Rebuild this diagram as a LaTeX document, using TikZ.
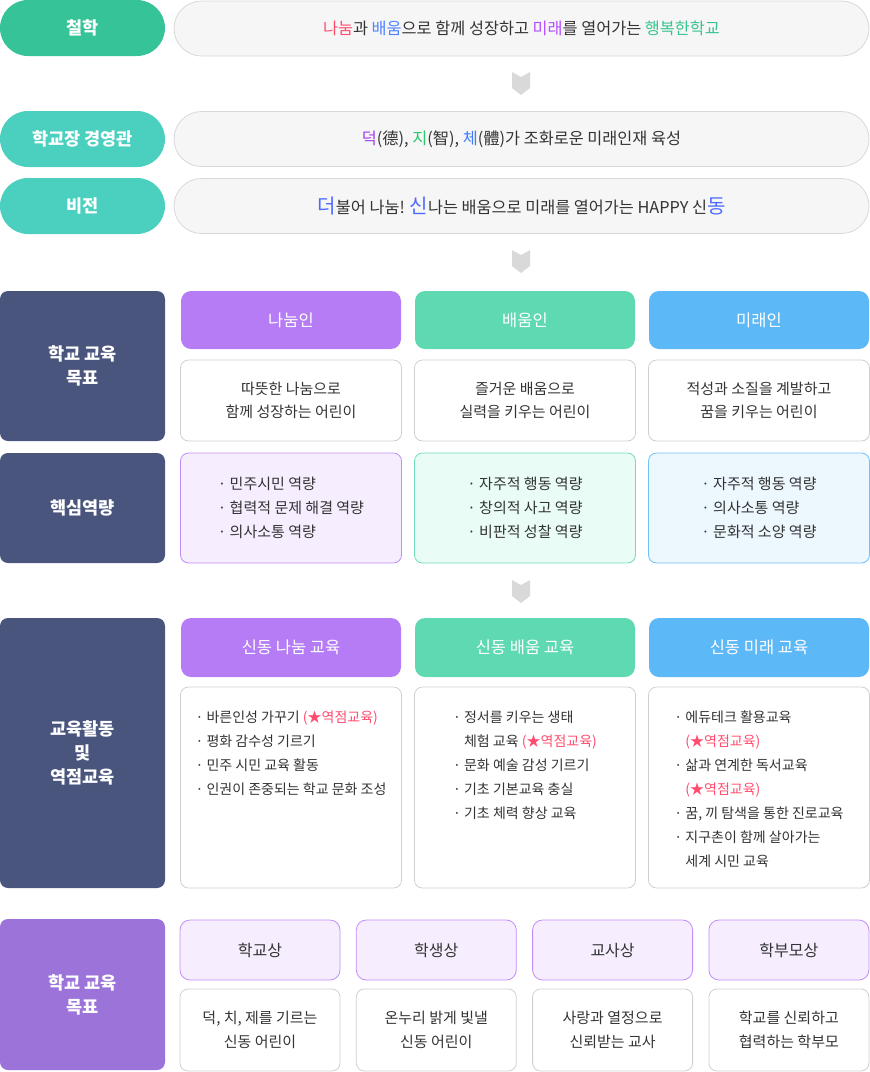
\documentclass[tikz,border=0pt]{standalone}
\usepackage{fontspec}
\setmainfont{Noto Sans CJK KR}
\usetikzlibrary{positioning}

\definecolor{cdark}{HTML}{333333}
\definecolor{cphil}{HTML}{37C398}
\definecolor{cmgmt}{HTML}{4BCFBF}
\definecolor{cnavy}{HTML}{4A557D}
\definecolor{cviolet}{HTML}{9B73D9}
\definecolor{cpurple}{HTML}{B57CF5}
\definecolor{cgreen}{HTML}{5ED9B1}
\definecolor{cblue}{HTML}{5DB8F8}
\definecolor{cpillbg}{HTML}{F6F6F6}
\definecolor{cpillline}{HTML}{D8D8D8}
\definecolor{cboxline}{HTML}{CFCFCF}
\definecolor{cchev}{HTML}{D9D9D9}
\definecolor{cpurplebg}{HTML}{F6EDFE}
\definecolor{cpurpleline}{HTML}{C28DF7}
\definecolor{cgreenbg}{HTML}{E9FCF6}
\definecolor{cgreenline}{HTML}{6FDDB9}
\definecolor{cbluebg}{HTML}{EDF7FE}
\definecolor{cblueline}{HTML}{6FC0F8}
\definecolor{tred}{HTML}{FF4C6F}
\definecolor{tblue}{HTML}{4F83FF}
\definecolor{tviolet}{HTML}{B64CFF}
\definecolor{tgreen}{HTML}{38C48F}
\definecolor{tdeok}{HTML}{A43BF2}
\definecolor{tji}{HTML}{2DC56E}
\definecolor{tche}{HTML}{3E7BF5}
\definecolor{tvision}{HTML}{4F6BFF}

\newcommand{\ptfont}[1]{\fontsize{#1}{24}\selectfont}
\newcommand{\focusedu}{\color{tred}(★역점교육)}

\begin{document}
\begin{tikzpicture}[x=1pt, y=-1pt, node distance=14pt,
	every node/.style={inner sep=0pt, outer sep=0pt, text=cdark},
	pilltag/.style={fill=#1, rounded corners=28pt, minimum width=165pt, minimum height=56pt, text=white, font=\ptfont{17.5}\bfseries},
	pillbody/.style={fill=cpillbg, draw=cpillline, line width=0.8pt, rounded corners=27.5pt, minimum width=695pt, minimum height=55pt, font=\ptfont{16.3}},
	sidebox/.style={fill=#1, rounded corners=8pt, minimum width=165pt, text=white, align=center, font=\fontsize{17.5}{24}\selectfont\bfseries},
	headbox/.style={fill=#1, rounded corners=10pt, minimum width=220pt, text=white, font=\ptfont{16.5}},
	descbox/.style={draw=cboxline, line width=0.8pt, rounded corners=8pt, minimum width=221pt, align=center, font=\fontsize{15}{23}\selectfont},
	corebox/.style={draw=#1line, fill=#1bg, line width=0.8pt, rounded corners=8pt, minimum width=221pt, minimum height=110pt, align=left, font=\fontsize{15}{24}\selectfont},
	listtext/.style={anchor=north, align=left, font=\fontsize{14}{24}\selectfont},
	idealhead/.style={fill=cpurplebg, draw=cpurpleline, line width=0.8pt, rounded corners=10pt, minimum width=160pt, minimum height=60pt, font=\ptfont{16}},
	idealbody/.style={draw=cboxline, line width=0.8pt, rounded corners=8pt, minimum width=160pt, minimum height=82pt, align=center, font=\fontsize{15}{24}\selectfont},
	downchev/.pic={\fill[cchev] (-9,0) -- (0,5) -- (9,0) -- (9,16) -- (0,23) -- (-9,16) -- cycle;}]
	\useasboundingbox (0,0) rectangle (870,1072);

	\node[pilltag=cphil] (phil) at (82.5,28) {철학};
	\node[pillbody] (philtxt) at (521.5,28.5) {{\color{tred}나눔}과 {\color{tblue}배움}으로 함께 성장하고 {\color{tviolet}미래}를 열어가는 {\color{tgreen}행복한학교}};
	\pic at (521,72) {downchev};

	\node[pilltag=cmgmt] (mgmt) at (82.5,139) {학교장 경영관};
	\node[pillbody] (mgmttxt) at (521.5,139) {{\color{tdeok}덕}(德), {\color{tji}지}(智), {\color{tche}체}(體)가 조화로운 미래인재 육성};
	\node[pilltag=cmgmt] (vision) at (82.5,206) {비전};
	\node[pillbody] (visiontxt) at (521.5,206) {{\color{tvision}\ptfont{20}더}불어 나눔! {\color{tvision}\ptfont{20}신}나는 배움으로 미래를 열어가는 HAPPY 신{\color{tvision}\ptfont{20}동}};
	\pic at (521,250) {downchev};

	\node[sidebox=cnavy, minimum height=150pt] (goal) at (82.5,366) {학교 교육\\목표};
	\node[headbox=cpurple, minimum height=58pt, anchor=north west] (hnanum) at (181,291) {나눔인};
	\node[headbox=cgreen, minimum height=58pt, right=of hnanum] (hbaeum) {배움인};
	\node[headbox=cblue, minimum height=58pt, right=of hbaeum] (hmirae) {미래인};
	\node[descbox, minimum height=81pt, below=11pt of hnanum] (dnanum) {따뜻한 나눔으로\\함께 성장하는 어린이};
	\node[descbox, minimum height=81pt, below=11pt of hbaeum] (dbaeum) {즐거운 배움으로\\실력을 키우는 어린이};
	\node[descbox, minimum height=81pt, below=11pt of hmirae] (dmirae) {적성과 소질을 계발하고\\꿈을 키우는 어린이};

	\node[sidebox=cnavy, minimum height=110pt] (core) at (82.5,508) {핵심역량};
	\node[corebox=cpurple, below=12pt of dnanum] (cnanum) {· 민주시민 역량\\· 협력적 문제 해결 역량\\· 의사소통 역량};
	\node[corebox=cgreen, below=12pt of dbaeum] (cbaeum) {· 자주적 행동 역량\\· 창의적 사고 역량\\· 비판적 성찰 역량};
	\node[corebox=cblue, below=12pt of dmirae] (cmirae) {· 자주적 행동 역량\\· 의사소통 역량\\· 문화적 소양 역량};
	\pic at (521,580) {downchev};

	\node[sidebox=cnavy, minimum height=270pt] (edu) at (82.5,753) {교육활동\\및\\역점교육};
	\node[headbox=cpurple, minimum height=59pt, anchor=north west] (enanum) at (181,618) {신동 나눔 교육};
	\node[headbox=cgreen, minimum height=59pt, right=of enanum] (ebaeum) {신동 배움 교육};
	\node[headbox=cblue, minimum height=59pt, right=of ebaeum] (emirae) {신동 미래 교육};
	\node[descbox, minimum height=201pt, below=10pt of enanum] (bnanum) {};
	\node[descbox, minimum height=201pt, below=10pt of ebaeum] (bbaeum) {};
	\node[descbox, minimum height=201pt, below=10pt of emirae] (bmirae) {};
	\node[listtext] (lnanum) at ([yshift=-24pt]bnanum.north) {· 바른인성 가꾸기 \focusedu\\· 평화 감수성 기르기\\· 민주 시민 교육 활동\\· 인권이 존중되는 학교 문화 조성};
	\node[listtext] (lbaeum) at ([yshift=-24pt]bbaeum.north) {· 정서를 키우는 생태\\\phantom{· }체험 교육 \focusedu\\· 문화 예술 감성 기르기\\· 기초 기본교육 충실\\· 기초 체력 향상 교육};
	\node[listtext] (lmirae) at ([yshift=-24pt]bmirae.north) {· 에듀테크 활용교육\\\phantom{· }\focusedu\\· 삶과 연계한 독서교육\\\phantom{· }\focusedu\\· 꿈, 끼 탐색을 통한 진로교육\\· 지구촌이 함께 살아가는\\\phantom{· }세계 시민 교육};

	\node[sidebox=cviolet, minimum height=151pt] (ideal) at (82.5,994.5) {학교 교육\\목표};
	\node[idealhead, anchor=north west] (ischool) at (180,920) {학교상};
	\node[idealhead, right=16.3pt of ischool] (istudent) {학생상};
	\node[idealhead, right=16.3pt of istudent] (iteacher) {교사상};
	\node[idealhead, right=16.3pt of iteacher] (iparent) {학부모상};
	\node[idealbody, below=9pt of ischool] (tschool) {덕, 치, 제를 기르는\\신동 어린이};
	\node[idealbody, below=9pt of istudent] (tstudent) {온누리 밝게 빛낼\\신동 어린이};
	\node[idealbody, below=9pt of iteacher] (tteacher) {사랑과 열정으로\\신뢰받는 교사};
	\node[idealbody, below=9pt of iparent] (tparent) {학교를 신뢰하고\\협력하는 학부모};
\end{tikzpicture}
\end{document}
